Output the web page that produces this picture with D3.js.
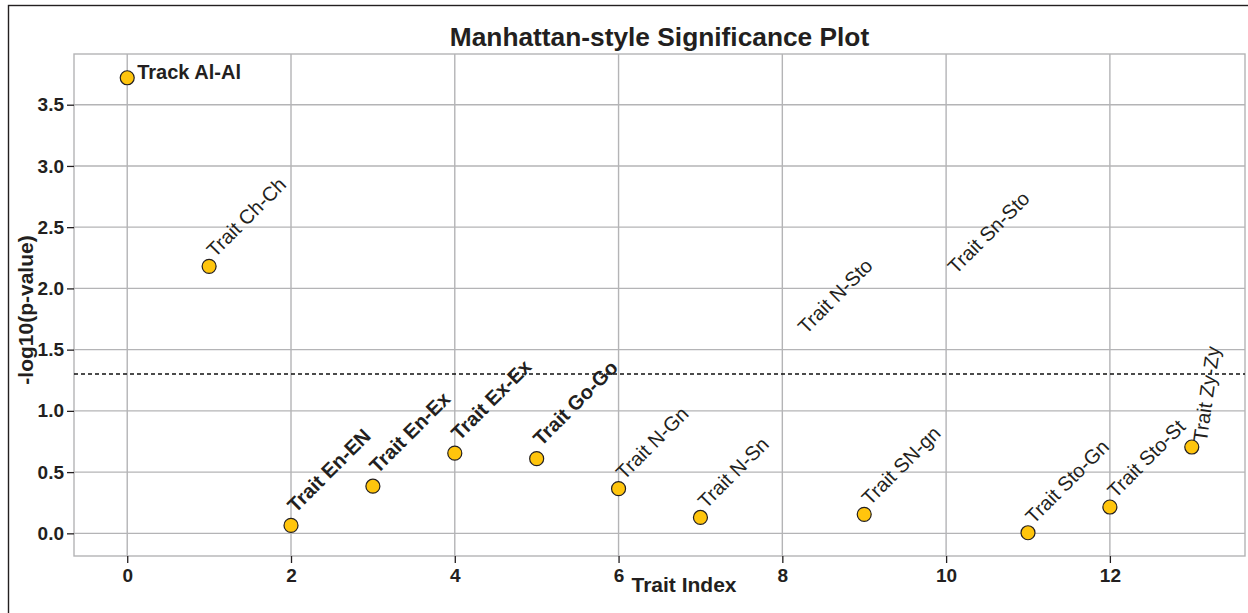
<!DOCTYPE html>
<html><head><meta charset="utf-8">
<script src="https://cdn.jsdelivr.net/npm/d3@7"></script>
<style>body{margin:0;background:#fff} svg{display:block}</style>
</head><body>
<script>
// ---- data ----
const traitIndex = [0, 1, 2, 3, 4, 5, 6, 7, 9, 11, 12, 13];
const traitNames = ["Track Al-Al", "Trait Ch-Ch", "Trait En-EN", "Trait En-Ex", "Trait Ex-Ex", "Trait Go-Go",
  "Trait N-Gn", "Trait N-Sn", "Trait SN-gn", "Trait Sto-Gn", "Trait Sto-St", "Trait Zy-Zy"];
const negLog10P = [3.72, 2.18, 0.065, 0.385, 0.655, 0.61, 0.365, 0.13, 0.155, 0.005, 0.215, 0.705];
const labelOnlyNames = ["Trait N-Sto", "Trait Sn-Sto"];
const labelOnlyIndex = [8.22, 10.05];
const labelOnlyValue = [1.555, 2.045];
const highlightedNames = ["Track Al-Al", "Trait En-EN", "Trait En-Ex", "Trait Ex-Ex", "Trait Go-Go"];
const xTickValues = [0, 2, 4, 6, 8, 10, 12];
const yTickValues = [0, 0.5, 1.0, 1.5, 2.0, 2.5, 3.0, 3.5];
const significanceLine = 1.301;
const chartTitle = "Manhattan-style Significance Plot";
const xTitle = "Trait Index";
const yTitle = "-log10(p-value)";

// ---- layout ----
const W = 1248, H = 613;
const L = 74, R = 1245, T = 54, B = 556;
const FONT = "'Liberation Sans', Arial, Helvetica, sans-serif";
const GRID = "#b4b4b6", INK = "#231f20";

const svg = d3.select("body").append("svg").attr("width", W).attr("height", H)
  .style("font-family", FONT);
svg.append("rect").attr("width", W).attr("height", H).attr("fill", "#fff");
// figure border (only top/left visible)
svg.append("rect").attr("x", 8.5).attr("y", 5.5).attr("width", 1400).attr("height", 800)
  .attr("fill", "none").attr("stroke", INK).attr("stroke-width", 1.4);

const x = d3.scaleLinear().domain([-0.65, 13.65]).range([L, R]);
const y = d3.scaleLinear().domain([-0.185, 3.914]).range([B, T]);

// grid
const grid = svg.append("g").attr("stroke", GRID).attr("stroke-width", 1.4);
grid.selectAll("line.v").data(xTickValues).join("line").attr("class", "v")
  .attr("x1", d => x(d)).attr("x2", d => x(d)).attr("y1", T).attr("y2", B);
grid.selectAll("line.h").data(yTickValues).join("line").attr("class", "h")
  .attr("x1", L).attr("x2", R).attr("y1", d => y(d)).attr("y2", d => y(d));
svg.append("rect").attr("x", L).attr("y", T).attr("width", R - L).attr("height", B - T)
  .attr("fill", "none").attr("stroke", GRID).attr("stroke-width", 1.4);

// axes
const yAxis = d3.axisLeft(y).tickValues(yTickValues).tickFormat(d3.format(".1f")).tickSize(7).tickPadding(3);
const xAxis = d3.axisBottom(x).tickValues(xTickValues).tickFormat(d3.format("d")).tickSize(7).tickPadding(6);
const gy = svg.append("g").attr("transform", `translate(${L},0)`).call(yAxis);
const gx = svg.append("g").attr("transform", `translate(0,${B})`).call(xAxis);
[gx, gy].forEach(g => {
  g.select(".domain").remove();
  g.selectAll(".tick line").attr("stroke", INK).attr("stroke-width", 1.3);
  g.selectAll(".tick text").attr("fill", INK).style("font-size", "19px").style("font-weight", "bold")
    .style("font-family", FONT);
});

// threshold
svg.append("line").attr("x1", L).attr("x2", R)
  .attr("y1", y(significanceLine)).attr("y2", y(significanceLine))
  .attr("stroke", "#111").attr("stroke-width", 1.3).attr("stroke-dasharray", "4,3");

// points
const pts = traitIndex.map((d, i) => ({ idx: d, v: negLog10P[i], name: traitNames[i] }));
svg.append("g").selectAll("circle").data(pts).join("circle")
  .attr("cx", d => x(d.idx)).attr("cy", d => y(d.v)).attr("r", 7)
  .attr("fill", "#ffc50d").attr("stroke", INK).attr("stroke-width", 1.2);

// labels
const lab = svg.append("g").attr("fill", INK);
function placeLabel(px, py, text, bold, angle, ox, oy) {
  const fs = 20, asc = 0.905 * fs, desc = 0.212 * fs;
  const a = angle * Math.PI / 180;
  const ax = px + ox + asc * Math.sin(a);
  const ay = py + oy - desc * Math.cos(a);
  lab.append("text").attr("transform", `translate(${ax},${ay}) rotate(${-angle})`)
    .style("font-size", fs + "px").style("font-weight", bold ? "bold" : "normal")
    .text(text);
}
pts.forEach((d, i) => {
  const px = x(d.idx), py = y(d.v);
  const bold = highlightedNames.includes(d.name);
  if (i === 0) {
    lab.append("text").attr("x", px + 10).attr("y", py + 1)
      .style("font-size", "20px").style("font-weight", "bold").text(d.name);
  } else if (i === pts.length - 1) {
    placeLabel(px, py, d.name, bold, 82, -3, -4);
  } else {
    placeLabel(px, py, d.name, bold, 45, bold ? -8 : -7, bold ? -9 : -5);
  }
});
labelOnlyNames.forEach((n, i) => {
  placeLabel(x(labelOnlyIndex[i]), y(labelOnlyValue[i]), n, false, 45, -7, -5);
});

// titles
svg.append("text").attr("x", (L + R) / 2).attr("y", 46).attr("text-anchor", "middle")
  .attr("fill", INK).style("font-size", "26.3px").style("font-weight", "bold").text(chartTitle);
svg.append("text").attr("x", 684).attr("y", 592).attr("text-anchor", "middle")
  .attr("fill", INK).style("font-size", "21px").style("font-weight", "bold").text(xTitle);
svg.append("text").attr("transform", `translate(33,${(T + B) / 2 + 5}) rotate(-90)`)
  .attr("text-anchor", "middle")
  .attr("fill", INK).style("font-size", "21px").style("font-weight", "bold").text(yTitle);
</script>
</body></html>
